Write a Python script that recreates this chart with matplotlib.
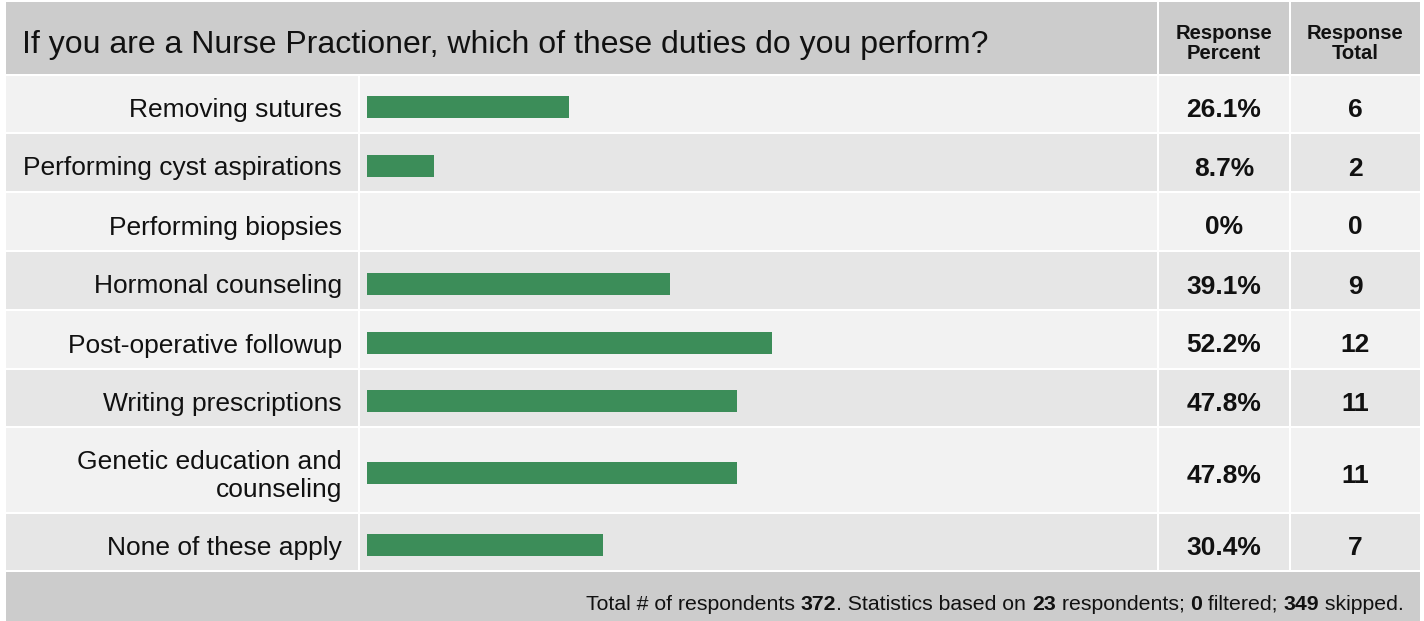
import matplotlib
matplotlib.use("Agg")
import matplotlib.pyplot as plt
from matplotlib.patches import Rectangle

# ---- data ----
categories = ["Removing sutures", "Performing cyst aspirations", "Performing biopsies",
              "Hormonal counseling", "Post-operative followup", "Writing prescriptions",
              "Genetic education and\ncounseling", "None of these apply"]
percents = [26.1, 8.7, 0.0, 39.1, 52.2, 47.8, 47.8, 30.4]
percent_labels = ["26.1%", "8.7%", "0%", "39.1%", "52.2%", "47.8%", "47.8%", "30.4%"]
totals = [6, 2, 0, 9, 12, 11, 11, 7]
title = "If you are a Nurse Practioner, which of these duties do you perform?"
col_headers = ["Response\nPercent", "Response\nTotal"]
footer_parts = [("Total # of respondents ", False), ("372", True),
                (". Statistics based on ", False), ("23", True),
                (" respondents; ", False), ("0", True), (" filtered; ", False),
                ("349", True), (" skipped.", False)]

# ---- layout (pixels) ----
W, H = 1424, 621
row_edges = [75, 133, 192, 251, 310, 369, 427, 513, 571]
x_left, x_c1, x_c2, x_c3, x_right = 6, 359, 1158, 1290, 1420
bar_x0, bar_x100 = 367, 1142
head_top, foot_bot = 2, 621
bar_h = 22
bar_shift = 3
txt_col = "#111111"

plt.rcParams['font.family'] = ['Liberation Sans', 'DejaVu Sans']
fig = plt.figure(figsize=(W / 100, H / 100), dpi=100)
fig.patch.set_facecolor("white")
bg = fig.add_axes([0, 0, 1, 1])
bg.set_xlim(0, W)
bg.set_ylim(H, 0)
bg.axis("off")

gap = 2
header_col = "#cccccc"
row_cols = ["#f2f2f2", "#e6e6e6"]

# header
bg.add_patch(Rectangle((x_left, head_top), x_c2 - x_left - gap / 2, row_edges[0] - head_top - gap / 2, color=header_col, lw=0))
bg.add_patch(Rectangle((x_c2 + gap / 2, head_top), x_c3 - x_c2 - gap, row_edges[0] - head_top - gap / 2, color=header_col, lw=0))
bg.add_patch(Rectangle((x_c3 + gap / 2, head_top), x_right - x_c3 - gap / 2, row_edges[0] - head_top - gap / 2, color=header_col, lw=0))
bg.text(22, 53, title, fontsize=23, va="baseline", ha="left", color=txt_col)
for xa, xb, t in [(x_c2, x_c3, col_headers[0]), (x_c3, x_right, col_headers[1])]:
    bg.text((xa + xb) / 2, 43.5, t, fontsize=14.6, fontweight="bold",
            ha="center", va="center", linespacing=1.1, color=txt_col)

# rows
for i in range(len(categories)):
    y0, y1 = row_edges[i], row_edges[i + 1]
    c = row_cols[i % 2]
    for xa, xb in [(x_left, x_c1), (x_c1, x_c2), (x_c2, x_c3), (x_c3, x_right)]:
        xa2 = xa + (gap / 2 if xa != x_left else 0)
        xb2 = xb - (gap / 2 if xb != x_right else 0)
        bg.add_patch(Rectangle((xa2, y0 + gap / 2), xb2 - xa2, y1 - y0 - gap, color=c, lw=0))
    yc = (y0 + y1) / 2 + 6
    bg.text(x_c1 - 17, yc, categories[i], fontsize=19, ha="right", va="center",
            linespacing=1.2, color=txt_col)
    bg.text((x_c2 + x_c3) / 2, yc, percent_labels[i], fontsize=19, fontweight="bold",
            ha="center", va="center", color=txt_col)
    bg.text((x_c3 + x_right) / 2, yc, str(totals[i]), fontsize=19, fontweight="bold",
            ha="center", va="center", color=txt_col)

# footer
bg.add_patch(Rectangle((x_left, row_edges[-1] + gap / 2), x_right - x_left, foot_bot - row_edges[-1], color=header_col, lw=0))

# bars axis
centers = [(row_edges[i] + row_edges[i + 1]) / 2 for i in range(len(categories))]
ax = fig.add_axes([bar_x0 / W, 1 - (row_edges[-1] + bar_shift) / H, (bar_x100 - bar_x0) / W,
                   (row_edges[-1] - row_edges[0]) / H])
ax.set_xlim(0, 100)
ax.set_ylim(row_edges[-1], row_edges[0])
ax.axis("off")
ax.patch.set_alpha(0)
ax.barh(centers, percents, height=bar_h, color="#3c8d59", lw=0)

# footer text (right aligned, mixed weight)
fig.canvas.draw()
r = fig.canvas.get_renderer()
x = 1404
yf = 604
inv = bg.transData.inverted()
for txt, bold in reversed(footer_parts):
    t = bg.text(x, yf, txt, fontsize=15.3, fontweight="bold" if bold else "normal",
                ha="right", va="center", color=txt_col)
    bb = t.get_window_extent(renderer=r)
    (xa, _), (xb, _) = inv.transform([(bb.x0, 0), (bb.x1, 0)])
    x -= (xb - xa)

fig.savefig("out.png", dpi=100, facecolor="white")
